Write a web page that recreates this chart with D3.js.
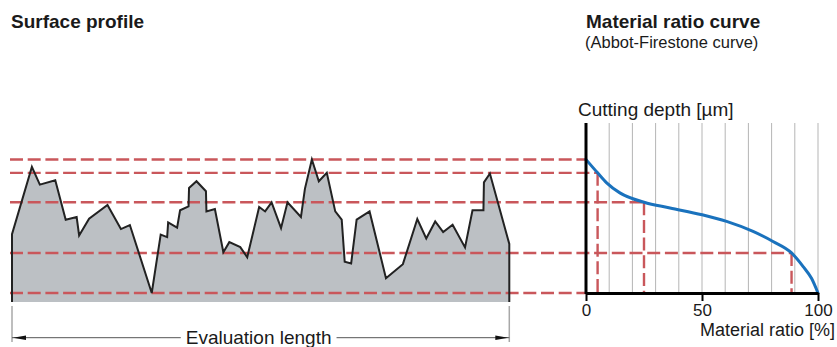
<!DOCTYPE html>
<html>
<head>
<meta charset="utf-8">
<script src="https://cdn.jsdelivr.net/npm/d3@7"></script>
<style>
  html, body { margin: 0; padding: 0; background: #fff; }
  svg { display: block; font-family: "Liberation Sans", Arial, Helvetica, sans-serif; }
</style>
</head>
<body>
<svg id="chart" width="837" height="347"></svg>
<script>
// Surface profile: position along the evaluation length (%) and height (µm)
const profilePos = [0, 4.0, 5.6, 8.7, 10.8, 13.0, 13.5, 15.5, 19.2, 21.9, 23.7, 28.1, 29.9, 31.2, 31.4,
  33.2, 33.8, 35.5, 35.6, 37.1, 39.0, 39.1, 40.8, 42.5, 43.7, 45.9, 47.3, 49.7, 50.9, 52.2, 54.1, 55.4,
  58.1, 58.9, 60.3, 61.7, 63.3, 65.0, 66.3, 66.9, 68.2, 69.3, 71.9, 75.2, 78.6, 81.5, 83.3, 85.1, 86.7,
  88.6, 91.1, 92.6, 94.8, 94.9, 96.1, 100];
const profileHeight = [4.41, 9.45, 8.12, 8.44, 5.49, 5.69, 4.31, 5.56, 6.59, 4.79, 5.09, 0, 4.38, 4.19, 5.29,
  4.89, 6.20, 6.49, 7.87, 8.37, 7.62, 6.11, 6.29, 3.06, 3.81, 3.44, 2.68, 6.44, 6.11, 6.79, 4.86, 6.79,
  5.69, 7.80, 10.0, 8.37, 9.0, 6.11, 5.49, 2.35, 2.22, 5.49, 6.11, 1.11, 2.16, 5.54, 4.08, 5.36, 4.56,
  5.11, 3.41, 6.19, 6.19, 8.29, 8.95, 3.68];

// Abbott-Firestone curve: material ratio (%) vs cutting depth (µm)
const curveRatio = [0, 5, 8.9, 14.6, 25, 36.2, 50, 60.6, 72, 80.6, 88.6, 93.6, 97.2, 100];
const curveDepth = [0, 1.0, 1.75, 2.5, 3.2, 3.63, 4.14, 4.64, 5.39, 6.14, 7.0, 8.02, 8.9, 10];

// Cutting levels and their material ratios
const levelDepth = [0, 1.0, 3.2, 7.0, 10];
const levelRatio = [0, 5, 25, 88.6, 100];

// Axis ticks and grid
const ratioTicks = [0, 50, 100];
const ratioGrid = [10, 20, 30, 40, 50, 60, 70, 80, 90, 100];
const maxHeight = 10;

const svg = d3.select("#chart");
const red = "#c9575b";
const ink = "#1a1a1a";

// Scales
const posX = d3.scaleLinear().domain([0, 100]).range([12, 509.3]);
const depthY = d3.scaleLinear().domain([0, maxHeight]).range([159.5, 293]);
const ratioX = d3.scaleLinear().domain([0, 100]).range([586, 818]);
const profileBase = 302;
const gridTop = 123;

const profile = profilePos.map((p, i) => ({ x: posX(p), y: depthY(maxHeight - profileHeight[i]) }));

// Profile fill (closed down to the base)
const fillPts = [{ x: profile[0].x, y: profileBase }, ...profile, { x: profile[profile.length - 1].x, y: profileBase }];
const line = d3.line().x(d => d.x).y(d => d.y);
svg.append("path")
  .attr("d", line(fillPts) + "Z")
  .attr("fill", "#bcc0c4")
  .attr("stroke", "none");

// Grid of material ratio
svg.append("g").selectAll("line")
  .data(ratioGrid)
  .join("line")
  .attr("x1", d => ratioX(d)).attr("x2", d => ratioX(d))
  .attr("y1", gridTop).attr("y2", depthY(maxHeight))
  .attr("stroke", "#b5b5b5").attr("stroke-width", 1);

// Dashed cutting levels
const levels = levelDepth.map((d, i) => ({ depth: d, ratio: levelRatio[i] }));
const dashG = svg.append("g")
  .attr("stroke", red).attr("stroke-width", 2.4)
  .attr("stroke-dasharray", "13,4.7").attr("fill", "none");
dashG.selectAll("line.h")
  .data(levels)
  .join("line")
  .attr("class", "h")
  .attr("x1", 10)
  .attr("x2", d => d.ratio >= 100 ? ratioX(0) : ratioX(d.ratio))
  .attr("y1", d => depthY(d.depth)).attr("y2", d => depthY(d.depth));
dashG.selectAll("line.v")
  .data(levels.filter(d => d.ratio > 0 && d.ratio < 100))
  .join("line")
  .attr("class", "v")
  .attr("x1", d => ratioX(d.ratio)).attr("x2", d => ratioX(d.ratio))
  .attr("y1", d => depthY(d.depth)).attr("y2", depthY(maxHeight));

// Profile outline
svg.append("path")
  .attr("d", line(fillPts))
  .attr("fill", "none")
  .attr("stroke", "#222")
  .attr("stroke-width", 2)
  .attr("stroke-linejoin", "miter");

// Material ratio curve
const curvePts = curveRatio.map((r, i) => [ratioX(r), depthY(curveDepth[i])]);
svg.append("path")
  .attr("d", d3.line().curve(d3.curveMonotoneX)(curvePts))
  .attr("fill", "none")
  .attr("stroke", "#1a72bd")
  .attr("stroke-width", 3)
  .attr("stroke-linecap", "round");

// Axes
svg.append("line")
  .attr("x1", ratioX(0)).attr("x2", ratioX(0))
  .attr("y1", gridTop).attr("y2", depthY(maxHeight) + 1)
  .attr("stroke", "#000").attr("stroke-width", 3);

const xAxis = svg.append("g")
  .attr("transform", `translate(0,${depthY(maxHeight)})`)
  .call(d3.axisBottom(ratioX).tickValues(ratioTicks).tickSize(8).tickSizeOuter(0).tickPadding(3));
xAxis.select(".domain").attr("stroke", "#000").attr("stroke-width", 3);
xAxis.selectAll(".tick line").attr("stroke", "#000").attr("stroke-width", 2);
xAxis.selectAll(".tick text")
  .attr("fill", ink)
  .style("font-size", "17px")
  .style("font-family", '"Liberation Sans", Arial, sans-serif');

// Evaluation length dimension
const dimY = 337.7;
const dim = svg.append("g");
[posX(0), posX(100)].forEach(x => {
  dim.append("line")
    .attr("x1", x).attr("x2", x).attr("y1", 306).attr("y2", 342)
    .attr("stroke", "#a8a8a8").attr("stroke-width", 1.5);
});
dim.append("line")
  .attr("x1", posX(0)).attr("x2", posX(100)).attr("y1", dimY).attr("y2", dimY)
  .attr("stroke", "#555").attr("stroke-width", 1);
// arrow heads
const arrow = (tip, dir) => `M${tip},${dimY} L${tip + dir * 13},${dimY - 2.2} L${tip + dir * 13},${dimY + 2.2} Z`;
dim.append("path").attr("d", arrow(posX(0) + 1, 1)).attr("fill", "#111");
dim.append("path").attr("d", arrow(posX(100) - 1, -1)).attr("fill", "#111");

const evalText = dim.append("text")
  .attr("x", posX(50) - 2).attr("y", 344)
  .attr("text-anchor", "middle")
  .attr("fill", ink)
  .style("font-size", "19px")
  .text("Evaluation length");
const bb = evalText.node().getBBox();
dim.insert("rect", "text")
  .attr("x", bb.x - 5).attr("y", dimY - 4)
  .attr("width", bb.width + 10).attr("height", 8)
  .attr("fill", "#fff");

// Titles and labels
svg.append("text").attr("x", 11).attr("y", 28)
  .attr("fill", ink).style("font-size", "19px").style("font-weight", "bold")
  .text("Surface profile");
svg.append("text").attr("x", 586).attr("y", 28)
  .attr("fill", ink).style("font-size", "19px").style("font-weight", "bold")
  .text("Material ratio curve");
svg.append("text").attr("x", 585).attr("y", 48)
  .attr("fill", ink).style("font-size", "16.5px")
  .text("(Abbot-Firestone curve)");
svg.append("text").attr("x", 578).attr("y", 116)
  .attr("fill", ink).style("font-size", "19px")
  .text("Cutting depth [µm]");
svg.append("text").attr("x", 835).attr("y", 336)
  .attr("text-anchor", "end")
  .attr("fill", ink).style("font-size", "18px")
  .text("Material ratio [%]");
</script>
</body>
</html>
